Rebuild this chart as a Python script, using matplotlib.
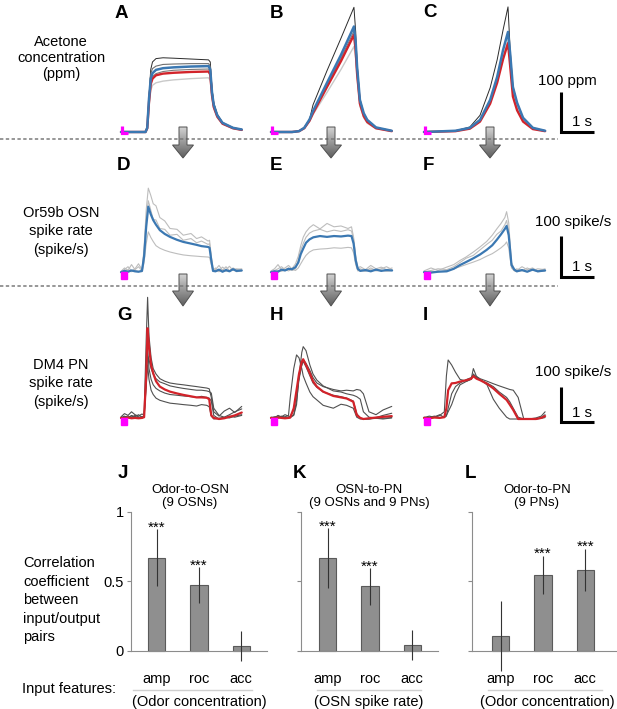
import numpy as np
import matplotlib
matplotlib.use('Agg')
import matplotlib.pyplot as plt
from matplotlib.patches import Polygon, Rectangle
from matplotlib.colors import LinearSegmentedColormap

plt.rcParams['font.family'] = ['Liberation Sans', 'DejaVu Sans']
plt.rcParams['font.size'] = 10.5

# ---------------- data: odor concentration (ppm) ----------------
tA = [0, 0.7, 0.75, 0.8, 0.85, 0.9, 1.0, 1.2, 1.5, 2.0, 2.5, 2.55, 2.6, 2.65, 2.75, 2.9, 3.2, 3.45]
A_mean = [0, 0, 10, 80, 128, 141, 149, 153, 155, 157, 158, 150, 95, 65, 40, 22, 10, 6]
A_red = [0, 0, 9, 72, 115, 128, 136, 140, 142, 144, 145, 138, 88, 60, 37, 20, 9, 5]
A_black = [0, 0, 10, 85, 150, 168, 176, 178, 177, 175, 173, 168, 105, 70, 43, 23, 10, 6]
A_gray = [0, 0, 10, 82, 140, 152, 158, 162, 163, 164, 164, 158, 100, 68, 41, 22, 10, 6]
A_gray2 = [0, 0, 9, 76, 122, 133, 140, 145, 148, 150, 151, 144, 92, 63, 39, 21, 9, 5]
A_light = [0, 0, 8, 60, 100, 112, 118, 122, 125, 128, 130, 124, 82, 56, 35, 19, 8, 5]

tB = [0, 0.6, 0.8, 0.95, 1.1, 1.2, 1.6, 2.0, 2.37, 2.42, 2.46, 2.54, 2.65, 2.75, 3.0, 3.45]
B_mean = [0, 0, 2, 10, 30, 50, 118, 185, 253, 215, 156, 77, 45, 29, 11, 3]
B_red = [0, 0, 2, 9, 27, 45, 108, 170, 233, 195, 140, 68, 38, 24, 9, 2]
B_black = [0, 0, 2, 10, 30, 65, 147, 225, 299, 240, 165, 80, 45, 29, 11, 3]
B_gray = [0, 0, 2, 10, 29, 48, 113, 177, 242, 205, 150, 72, 41, 26, 10, 3]
B_light = [0, 0, 2, 9, 25, 42, 95, 150, 205, 175, 130, 62, 34, 21, 8, 2]

tC = [0, 0.9, 1.31, 1.6, 1.89, 2.09, 2.26, 2.4, 2.46, 2.54, 2.66, 2.83, 3.11, 3.46]
C_mean = [0, 3, 10, 29, 77, 132, 197, 240, 190, 108, 70, 34, 10, 3]
C_red = [0, 2, 8, 25, 68, 118, 175, 213, 160, 85, 52, 25, 7, 2]
C_black = [0, 3, 12, 40, 106, 173, 245, 300, 200, 110, 70, 34, 10, 3]
C_light = [0, 2, 9, 26, 70, 122, 180, 220, 170, 95, 60, 29, 8, 2]

# ---------------- data: OSN spike rate (spike/s) ----------------
tD = [0, 0.1, 0.2, 0.3, 0.4, 0.5, 0.6, 0.66, 0.72, 0.78, 0.85, 0.92, 1.0, 1.11, 1.25, 1.4, 1.6,
      1.78, 2.0, 2.16, 2.3, 2.49, 2.53, 2.58, 2.63, 2.7, 2.8, 2.9, 3.0, 3.1, 3.2, 3.3, 3.45]
D_mean = [2, 5, 3, 6, 4, 3, 5, 40, 110, 158, 140, 126, 115, 102, 93, 86, 79,
          74, 70, 67, 64, 62, 60, 30, 5, 4, 8, 3, 7, 4, 9, 5, 6]
D_g1 = [4, 12, 6, 20, 8, 15, 5, 60, 150, 202, 185, 165, 160, 132, 124, 106, 104,
        90, 94, 82, 86, 76, 78, 40, 10, 8, 18, 6, 15, 5, 12, 8, 10]
D_g2 = [3, 8, 15, 5, 10, 22, 8, 50, 130, 172, 150, 128, 126, 106, 104, 90, 92,
        78, 82, 72, 76, 68, 70, 35, 6, 12, 5, 14, 8, 16, 6, 10, 8]
D_g3 = [2, 4, 8, 3, 6, 4, 3, 25, 70, 98, 85, 75, 65, 59, 54, 50, 46,
        43, 41, 40, 39, 38, 37, 20, 4, 6, 3, 8, 4, 6, 9, 3, 5]

tE = [0, 0.1, 0.2, 0.3, 0.4, 0.5, 0.6, 0.7, 0.78, 0.85, 0.92, 1.0, 1.1, 1.21, 1.4, 1.6, 1.8, 2.0,
      2.2, 2.3, 2.36, 2.42, 2.48, 2.55, 2.7, 2.85, 3.0, 3.15, 3.3, 3.46]
E_mean = [2, 4, 3, 8, 6, 10, 9, 14, 25, 45, 58, 72, 80, 85, 88, 86, 88, 87, 89, 88, 70, 30, 10, 5, 7, 4, 8, 5, 7, 6]
E_g1 = [5, 10, 20, 8, 12, 18, 10, 22, 40, 65, 85, 98, 108, 115, 105, 118, 110, 112, 106, 110, 85, 40, 12, 15, 8, 18, 10, 14, 8, 12]
E_g2 = [3, 6, 10, 15, 8, 12, 6, 10, 30, 55, 70, 85, 95, 100, 104, 98, 102, 99, 103, 100, 80, 35, 8, 10, 5, 12, 6, 10, 15, 8]
E_g3 = [2, 3, 6, 4, 8, 5, 9, 6, 12, 22, 32, 42, 50, 55, 57, 58, 60, 59, 61, 60, 48, 20, 5, 6, 4, 8, 5, 7, 4, 6]

tF = [0, 0.2, 0.4, 0.65, 0.85, 1.03, 1.2, 1.41, 1.6, 1.79, 1.95, 2.08, 2.2, 2.31, 2.36, 2.42, 2.46,
      2.5, 2.58, 2.65, 2.8, 2.95, 3.1, 3.25, 3.46]
F_mean = [2, 1, 3, 4, 10, 19, 26, 35, 44, 55, 66, 79, 92, 105, 112, 90, 55, 19, 8, 4, 7, 3, 8, 4, 6]
F_g1 = [5, 12, 6, 14, 20, 30, 38, 50, 62, 75, 90, 105, 118, 132, 146, 120, 70, 25, 10, 6, 15, 8, 12, 5, 10]
F_g2 = [3, 6, 10, 8, 15, 25, 35, 42, 55, 68, 78, 92, 100, 115, 125, 100, 60, 20, 6, 10, 5, 12, 6, 10, 8]
F_g3 = [2, 4, 3, 6, 10, 15, 20, 26, 32, 40, 46, 53, 60, 68, 74, 60, 35, 12, 5, 3, 6, 4, 8, 3, 5]

# ---------------- data: PN spike rate (spike/s) ----------------
tG = [0, 0.1, 0.2, 0.3, 0.4, 0.5, 0.6, 0.66, 0.72, 0.76, 0.8, 0.86, 0.92, 1.0, 1.11, 1.25, 1.4, 1.6,
      1.78, 2.0, 2.16, 2.3, 2.45, 2.52, 2.58, 2.65, 2.8, 2.95, 3.1, 3.25, 3.45]
G_mean = [3, 2, 4, 2, 3, 2, 3, 5, 120, 252, 200, 150, 127, 105, 90, 82, 76, 71,
          67, 63, 60, 60, 59, 55, 10, 3, 0, 2, 6, 10, 18]
G_g1 = [6, 15, 10, 20, 12, 8, 14, 10, 220, 338, 230, 170, 140, 125, 112, 105, 100, 97,
        95, 92, 90, 88, 86, 84, 60, 20, 8, 22, 30, 18, 35]
G_g2 = [4, 8, 3, 10, 6, 12, 5, 8, 120, 175, 165, 140, 125, 112, 103, 98, 92, 88,
        85, 82, 80, 80, 78, 76, 72, 30, 10, 5, 12, 20, 28]
G_g3 = [2, 5, 8, 4, 10, 6, 3, 6, 90, 150, 110, 80, 68, 58, 52, 48, 44, 42,
        40, 38, 36, 40, 38, 34, 8, 0, 2, 5, 3, 8, 12]
G_g4 = [3, 6, 4, 8, 5, 3, 7, 5, 100, 200, 140, 110, 95, 85, 78, 72, 68, 66,
        64, 62, 60, 63, 60, 58, 50, 10, 0, 3, 8, 5, 10]

tH = [0, 0.1, 0.2, 0.3, 0.4, 0.5, 0.55, 0.65, 0.73, 0.8, 0.88, 0.92, 1.0, 1.11, 1.2, 1.31, 1.49,
      1.78, 2.0, 2.16, 2.35, 2.45, 2.55, 2.64, 2.8, 3.0, 3.2, 3.45]
H_mean = [3, 2, 4, 3, 2, 3, 4, 30, 80, 125, 159, 166, 150, 127, 105, 90, 76, 64, 60, 57, 48, 11, 3, 0, 2, 4, 6, 8]
H_g1 = [4, 6, 3, 8, 5, 2, 4, 10, 40, 120, 185, 201, 190, 150, 125, 108, 92, 78, 75, 70, 66, 62, 55, 20, 5, 3, 2, 4]
H_g2 = [3, 5, 8, 4, 6, 10, 60, 140, 178, 170, 140, 120, 100, 75, 62, 53, 38, 30, 41, 38, 30, 5, 0, 0, 0, 2, 0, 3]
H_g3 = [5, 3, 10, 6, 12, 8, 6, 12, 50, 110, 150, 165, 155, 135, 115, 100, 90, 82, 78, 80, 78, 82, 80, 70, 20, 12, 25, 35]
H_g4 = [2, 4, 3, 6, 3, 5, 8, 25, 70, 115, 150, 160, 145, 120, 100, 88, 75, 66, 62, 58, 50, 15, 3, 0, 0, 4, 10, 16]

tI = [0, 0.15, 0.3, 0.45, 0.58, 0.64, 0.69, 0.79, 0.9, 1.03, 1.22, 1.35, 1.41, 1.5, 1.6, 1.8, 1.98,
      2.15, 2.36, 2.45, 2.55, 2.69, 2.85, 3.0, 3.2, 3.35, 3.46]
I_mean = [3, 2, 4, 3, 5, 30, 80, 99, 100, 104, 108, 112, 119, 112, 108, 98, 85, 70, 53, 40, 25, 0, 0, 0, 0, 3, 8]
I_g1 = [4, 8, 5, 10, 20, 120, 164, 150, 130, 110, 105, 110, 125, 115, 108, 100, 90, 75, 60, 48, 30, 5, 0, 0, 0, 4, 12]
I_g2 = [3, 5, 8, 4, 6, 10, 20, 40, 70, 95, 105, 112, 140, 118, 110, 95, 55, 30, 5, 0, 0, 0, 0, 0, 3, 8, 20]
I_g3 = [5, 3, 6, 12, 4, 8, 30, 70, 90, 100, 110, 115, 122, 118, 112, 105, 98, 92, 85, 82, 80, 60, 0, 0, 0, 2, 4]

# ---------------- data: correlation bars ----------------
features = ['amp', 'roc', 'acc']
J_vals = [0.67, 0.47, 0.035]
J_err = [0.205, 0.13, 0.11]
J_sig = ['***', '***', '']
K_vals = [0.665, 0.462, 0.04]
K_err = [0.215, 0.13, 0.11]
K_sig = ['***', '***', '']
L_vals = [0.106, 0.545, 0.58]
L_err = [0.255, 0.138, 0.153]
L_sig = ['', '***', '***']

# ---------------- figure ----------------
W, H = 617, 709
fig = plt.figure(figsize=(W / 100, H / 100), dpi=100)
ov = fig.add_axes([0, 0, 1, 1])
ov.axis('off')


def px_axes(x0, y0, w, h):
    return fig.add_axes([x0 / W, 1 - (y0 + h) / H, w / W, h / H])


SEC = 35.0          # pixels per second
BLUE = '#3b78b2'
RED = '#d2232a'
MAG = '#ff00ff'


def trace_panel(x0, base, k, traces, row):
    Lp, Rp, Up, Dp = 8, 128, 140, 12
    ax = px_axes(x0 - Lp, base - Up, Lp + Rp, Up + Dp)
    ax.set_xlim(-Lp / SEC, Rp / SEC)
    ax.set_ylim(-Dp / k, Up / k)
    ax.axis('off')
    for t, v, c, lw in traces:
        ax.plot(t, v, color=c, lw=lw, solid_joinstyle='round', solid_capstyle='round', clip_on=False)
    if row == 0:
        ax.plot([1 / SEC, 1 / SEC, 6.5 / SEC], [6 / k, -0.5 / k, -0.5 / k], color=MAG, lw=2.3,
                solid_capstyle='butt', solid_joinstyle='miter', zorder=5)
    else:
        ax.add_patch(Rectangle((0, -6 / k), 6 / SEC, 7 / k, color=MAG, zorder=5))
    return ax


# row 1: odor
k1, b1 = 0.417, 132
trace_panel(121, b1, k1, [(tA, A_light, '#c9c9c9', 1.0), (tA, A_black, '#2a2a2a', 0.7),
                          (tA, A_gray, '#6f6f6f', 0.8), (tA, A_gray2, '#7a7a7a', 0.8),
                          (tA, A_red, RED, 1.7), (tA, A_mean, BLUE, 1.8)], 0)
trace_panel(271, b1, k1, [(tB, B_light, '#c9c9c9', 1.0), (tB, B_black, '#2a2a2a', 0.7),
                          (tB, B_gray, '#7a7a7a', 0.8), (tB, B_red, RED, 1.7),
                          (tB, B_mean, BLUE, 1.8)], 0)
trace_panel(424, b1, k1, [(tC, C_light, '#d0d0d0', 1.0), (tC, C_black, '#2a2a2a', 0.7),
                          (tC, C_red, RED, 1.7), (tC, C_mean, BLUE, 1.8)], 0)

# row 2: OSN
k2, b2 = 0.42, 273
LG = '#bdbdbd'
trace_panel(121, b2, k2, [(tD, D_g1, LG, 0.8), (tD, D_g2, LG, 0.8), (tD, D_g3, LG, 0.8),
                          (tD, D_mean, BLUE, 1.6)], 1)
trace_panel(271, b2, k2, [(tE, E_g1, LG, 0.8), (tE, E_g2, LG, 0.8), (tE, E_g3, LG, 0.8),
                          (tE, E_mean, BLUE, 1.6)], 1)
trace_panel(424, b2, k2, [(tF, F_g1, LG, 0.8), (tF, F_g2, LG, 0.8), (tF, F_g3, LG, 0.8),
                          (tF, F_mean, BLUE, 1.6)], 1)

# row 3: PN
k3, b3 = 0.36, 419
DG = '#505050'
trace_panel(121, b3, k3, [(tG, G_g1, DG, 0.8), (tG, G_g2, DG, 0.8), (tG, G_g3, DG, 0.8),
                          (tG, G_g4, DG, 0.8), (tG, G_mean, RED, 1.6)], 2)
trace_panel(271, b3, k3, [(tH, H_g1, DG, 0.8), (tH, H_g2, DG, 0.8), (tH, H_g3, DG, 0.8),
                          (tH, H_g4, DG, 0.8), (tH, H_mean, RED, 1.6)], 2)
trace_panel(424, b3, k3, [(tI, I_g1, DG, 0.8), (tI, I_g2, DG, 0.8), (tI, I_g3, DG, 0.8),
                          (tI, I_mean, RED, 1.6)], 2)


# bar panels
def bar_panel(axis_x, c0, right_x, vals, errs, sig, show_labels):
    unit, ppu, y0px = 42.4, 139.0, 650.7
    ylo, yhi = -0.3, 1.08
    ax = px_axes(axis_x, y0px - yhi * ppu, right_x - axis_x, (yhi - ylo) * ppu)
    ax.set_xlim(-(c0 - axis_x) / unit, (right_x - c0) / unit)
    ax.set_ylim(ylo, yhi)
    x = np.arange(len(vals))
    ax.bar(x, vals, width=0.41, color='#8f8f8f', edgecolor='#5a5a5a', lw=0.8, zorder=2)
    ax.errorbar(x, vals, yerr=errs, fmt='none', ecolor='#333333', elinewidth=0.8, capsize=0, zorder=3)
    for xi, v, e, s in zip(x, vals, errs, sig):
        if s:
            ax.annotate(s, (xi, v + e), xytext=(0, -1.6), textcoords='offset points',
                        ha='center', va='baseline', fontsize=11)
    for sp in ['top', 'right']:
        ax.spines[sp].set_visible(False)
    ax.spines['left'].set_bounds(0, 1)
    ax.spines['bottom'].set_position(('data', 0))
    for sp in ['left', 'bottom']:
        ax.spines[sp].set_color('#8c8c8c')
        ax.spines[sp].set_linewidth(0.8)
    ax.set_yticks([0, 0.5, 1])
    ax.set_yticklabels(['0', '0.5', '1'] if show_labels else [])
    ax.tick_params(axis='y', length=3, width=0.8, color='#8c8c8c', pad=2, labelsize=10.5)
    ax.set_xticks(x)
    ax.set_xticklabels(features)
    ax.tick_params(axis='x', length=0, pad=15.5, labelsize=10.5)
    ax.patch.set_alpha(0)
    return ax


bar_panel(131, 156.5, 267, J_vals, J_err, J_sig, True)
bar_panel(301, 327.5, 438, K_vals, K_err, K_sig, False)
bar_panel(472, 500.5, 616, L_vals, L_err, L_sig, False)

# ---------------- overlay decorations ----------------
cmap = LinearSegmentedColormap.from_list('arr', ['#d2d2d2', '#5e5e5e'])
grad = np.linspace(0, 1, 64).reshape(-1, 1)


def grad_arrow(cx, y_top, y_neck, y_tip, sw=4.0, hw=10.5):
    verts = [(cx - sw, y_top), (cx + sw, y_top), (cx + sw, y_neck), (cx + hw, y_neck),
             (cx, y_tip), (cx - hw, y_neck), (cx - sw, y_neck)]
    poly = Polygon(verts, closed=True, facecolor='none', edgecolor='#505050', lw=0.7, zorder=3)
    ov.add_patch(poly)
    im = ov.imshow(grad, cmap=cmap, extent=(cx - hw, cx + hw, y_tip, y_top), aspect='auto',
                   origin='upper', zorder=2, interpolation='bilinear')
    im.set_clip_path(poly)


for cx in (183, 331, 490):
    grad_arrow(cx, 127, 145, 158)
    grad_arrow(cx, 274, 291, 306)

for yd in (138.5, 286):
    ov.plot([0, 558], [yd, yd], color='#7a7a7a', lw=1.1, dashes=(2.2, 1.6))

# scale bars
for top, bot, ytxt, txt, ytxt2 in ((92, 131.5, 81, '100 ppm', 122),
                                   (236, 276.5, 222, '100 spike/s', 267),
                                   (387, 421.5, 372, '100 spike/s', 413)):
    ov.plot([560.5, 560.5, 594], [top, bot, bot], color='black', lw=2.2,
            solid_capstyle='butt', solid_joinstyle='miter')
    ov.text(611 if 'spike' in txt else 597, ytxt, txt, ha='right', va='center', fontsize=10.8)
    ov.text(581.5, ytxt2, '1 s', ha='center', va='center', fontsize=10.8)

# panel letters
for (lx, ly, lt) in ((115, 13.5, 'A'), (270, 13.5, 'B'), (423, 12.5, 'C'),
                     (117, 166, 'D'), (270, 166, 'E'), (423, 166, 'F'),
                     (117, 315, 'G'), (270, 316, 'H'), (423, 316, 'I'),
                     (118, 473, 'J'), (293, 473, 'K'), (465, 473, 'L')):
    ov.text(lx, ly, lt, fontsize=13.5, fontweight='bold', ha='left', va='center')

# row labels
for lines, ys in ((['Acetone', 'concentration', '(ppm)'], (42, 58, 74)),
                  (['Or59b OSN', 'spike rate', '(spike/s)'], (213, 231.5, 250)),
                  (['DM4 PN', 'spike rate', '(spike/s)'], (365, 383.5, 402))):
    for s, yy in zip(lines, ys):
        ov.text(61, yy, s, ha='center', va='center', fontsize=10.5)

for s, yy in zip(['Correlation', 'coefficient', 'between', 'input/output', 'pairs'],
                 (563, 581.5, 600, 618.5, 637)):
    ov.text(23, yy, s, ha='left', va='center', fontsize=10.5)
ov.text(22, 689, 'Input features:', ha='left', va='center', fontsize=10.5)

# bar panel titles
for cx, t1, t2 in ((190, 'Odor-to-OSN', '(9 OSNs)'), (369, 'OSN-to-PN', '(9 OSNs and 9 PNs)'),
                   (537, 'Odor-to-PN', '(9 PNs)')):
    ov.text(cx, 490, t1, ha='center', va='center', fontsize=9.5)
    ov.text(cx, 503, t2, ha='center', va='center', fontsize=9.5)

# input feature groups
for x1, x2, cx, t in ((133, 252, 199, '(Odor concentration)'), (317, 421, 369, '(OSN spike rate)'),
                      (488, 602, 547, '(Odor concentration)')):
    ov.plot([x1, x2], [690, 690], color='#cfcfcf', lw=1.0)
    ov.text(cx, 702, t, ha='center', va='center', fontsize=10.5)

ov.set_xlim(0, W)
ov.set_ylim(H, 0)

fig.savefig('out.png', dpi=100)
